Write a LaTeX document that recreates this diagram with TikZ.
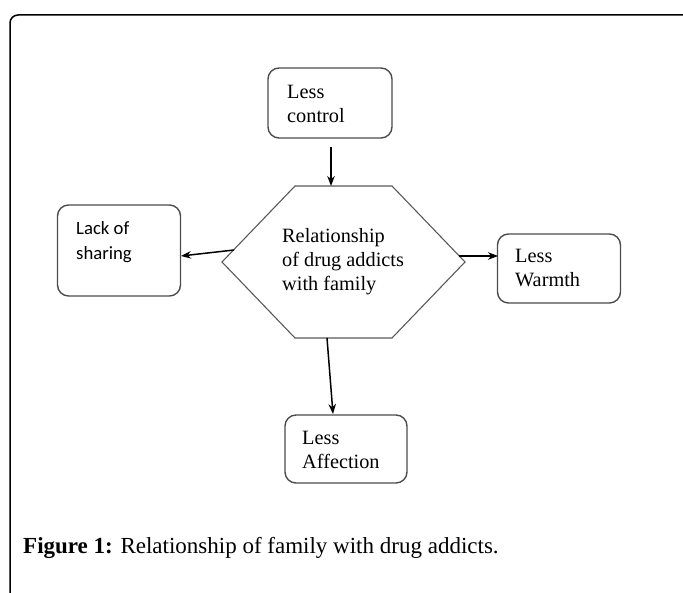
\documentclass[tikz,border=0pt]{standalone}
\usepackage{fontspec}
\setmainfont{Liberation Serif}
\newfontfamily\carlito{Carlito}
\usetikzlibrary{arrows.meta}
\begin{document}
\begin{tikzpicture}[x=1pt,y=-1pt,
  box/.style={draw=black!70, line width=1.4pt, rounded corners=11pt, inner sep=0pt},
  txt/.style={anchor=base west, inner sep=0pt, align=left, font=\fontsize{20.3}{24}\selectfont},
  stxt/.style={anchor=base west, inner sep=0pt, align=left, font=\carlito\fontsize{18.7}{25}\selectfont},
  hexline/.style={draw=black!65, line width=1.1pt},
  arr/.style={-{Stealth[length=10pt,width=7.5pt]}, line width=1.5pt, black}]
\useasboundingbox (0,0) rectangle (683,593);
\begin{scope}
\clip (0,0) rectangle (683,593);
\draw[line width=1.5pt, rounded corners=8pt] (10,15) rectangle (695,620);
\end{scope}
% boxes
\node[box, minimum width=124pt, minimum height=70pt] (lc) at (330,103) {};
\node[box, minimum width=123pt, minimum height=91pt] (ls) at (119,250.5) {};
\node[box, minimum width=123pt, minimum height=69pt] (lw) at (559,268.5) {};
\node[box, minimum width=122pt, minimum height=68pt] (la) at (346,449) {};
% text nodes: anchor at baseline of last line
\node[txt] (lct) at (287,123) {Less\\control};
\node[stxt] (lst) at (76,260) {Lack of\\sharing};
\node[txt] (lwt) at (515,287) {Less\\Warmth};
\node[txt] (lat) at (302,468) {Less\\Affection};
% hexagon
\coordinate (h1) at (295,186);
\coordinate (h2) at (392,186);
\coordinate (h3) at (465,262);
\coordinate (h4) at (392,338);
\coordinate (h5) at (295,338);
\coordinate (h6) at (222,262);
\draw[hexline] (h1) -- (h2) -- (h3) -- (h4) -- (h5) -- (h6) -- cycle;
\node[txt] (hext) at (282,291) {Relationship\\of drug addicts\\with family};
% connector anchor points
\coordinate (ct) at (331,147);
\coordinate (htop) at (331,186);
\coordinate (hl) at (234,250);
\coordinate (lsr) at (181,256);
\coordinate (hr) at (459,256);
\coordinate (lwl) at (498,256);
\coordinate (hb) at (327,338);
\coordinate (lat2) at (333,414);
\draw[arr] (ct) -- (htop);
\draw[arr] (hl) -- (lsr);
\draw[arr] (hr) -- (lwl);
\draw[arr] (hb) -- (lat2);
% caption
\node[anchor=base west, inner sep=0pt, font=\fontsize{23}{27}\selectfont] (cap) at (23,553) {\textbf{Figure 1:} Relationship of family with drug addicts.};
\end{tikzpicture}
\end{document}
